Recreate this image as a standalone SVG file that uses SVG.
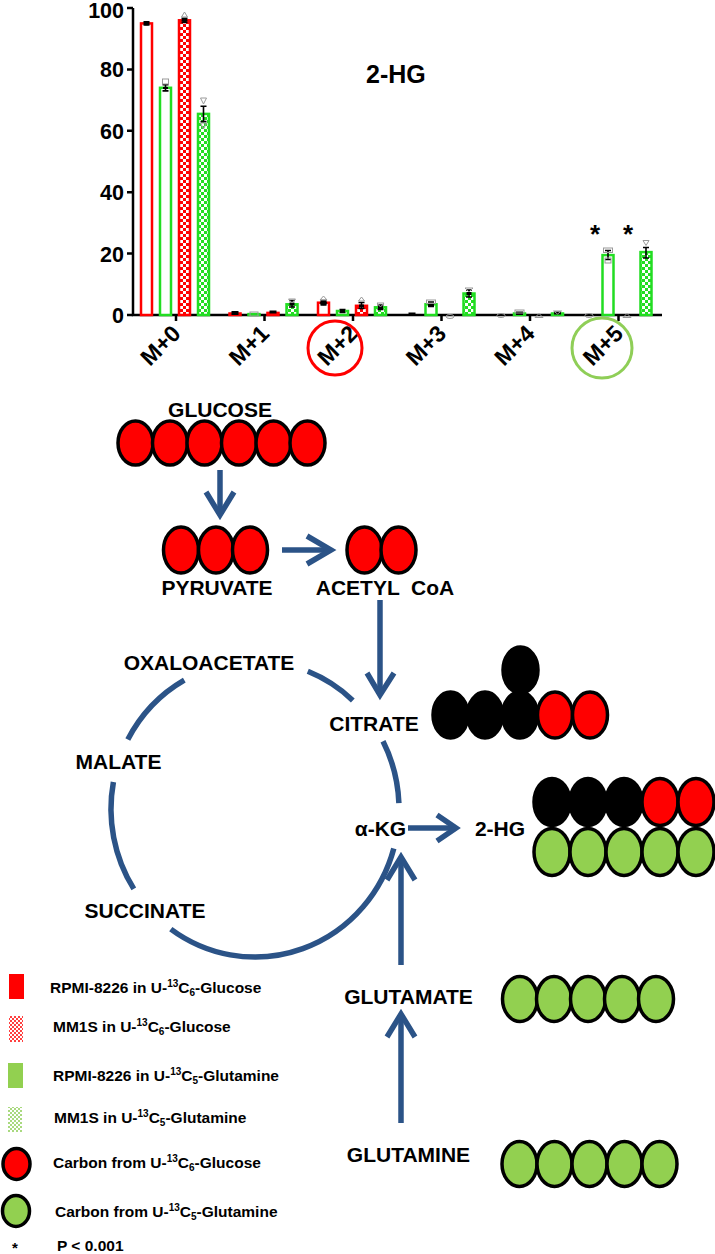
<svg xmlns="http://www.w3.org/2000/svg" width="715" height="1254" viewBox="0 0 715 1254">
<defs>
<pattern id="chkR" width="6" height="6" patternUnits="userSpaceOnUse"><rect width="6" height="6" fill="#ff0000"/><rect width="3" height="3" fill="#fff"/><rect x="3" y="3" width="3" height="3" fill="#fff"/></pattern>
<pattern id="chkG" width="6" height="6" patternUnits="userSpaceOnUse"><rect width="6" height="6" fill="#22dd22"/><rect width="3" height="3" fill="#fff"/><rect x="3" y="3" width="3" height="3" fill="#fff"/></pattern>
<pattern id="chkRL" width="4" height="4" patternUnits="userSpaceOnUse"><rect width="4" height="4" fill="#ff4040"/><rect width="2" height="2" fill="#fff"/><rect x="2" y="2" width="2" height="2" fill="#fff"/></pattern>
<pattern id="chkGL" width="4" height="4" patternUnits="userSpaceOnUse"><rect width="4" height="4" fill="#a9d97f"/><rect width="2" height="2" fill="#fff"/><rect x="2" y="2" width="2" height="2" fill="#fff"/></pattern>
</defs>
<style>
.t{font-family:'Liberation Sans',Arial,sans-serif;font-weight:bold;fill:#000}
.ax{stroke:#000;stroke-width:2.5;fill:none}
.ro{fill:#fff;stroke:#ff0000;stroke-width:2.5}
.go{fill:#fff;stroke:#22dd22;stroke-width:2.5}
.rc{fill:url(#chkR);stroke:#ff0000;stroke-width:2.5}
.gc{fill:url(#chkG);stroke:#22dd22;stroke-width:2.5}
.eb{stroke:#000;stroke-width:1.6;fill:none}
.mk{fill:#000}
.zm{fill:none;stroke:#999;stroke-width:1}
.pw{stroke:#2b5387;stroke-width:5.5;fill:none}
.ov{stroke:#000;stroke-width:3.5}
.r{fill:#ff0000}.k{fill:#000}.g{fill:#92d050}
.pl{font-size:21px}
.lg{font-size:15.5px}
.sm{font-size:10px}
</style>
<rect width="715" height="1254" fill="#fff"/>

<g id="chart">
<g id="axes">
<path class="ax" d="M133 8 V315 H662"/>
<path class="ax" d="M127 8H133M127 69.4H133M127 130.8H133M127 192.2H133M127 253.6H133M127 315H133"/>
<path class="ax" d="M176 315V321M264.5 315V321M353 315V321M441.5 315V321M530 315V321M618.5 315V321"/>
<g class="t" font-size="21.5" text-anchor="end">
<text x="124" y="17.5">100</text><text x="124" y="77.4">80</text><text x="124" y="138.8">60</text><text x="124" y="200.2">40</text><text x="124" y="261.6">20</text><text x="124" y="323">0</text>
</g>
<g class="t" font-size="23" text-anchor="end">
<text transform="translate(182 335) rotate(-45)">M+0</text>
<text transform="translate(270.5 335) rotate(-45)">M+1</text>
<text transform="translate(359 335) rotate(-45)">M+2</text>
<text transform="translate(447.5 335) rotate(-45)">M+3</text>
<text transform="translate(536 335) rotate(-45)">M+4</text>
<text transform="translate(624.5 335) rotate(-45)">M+5</text>
</g>
<text class="t" x="366" y="83" font-size="25">2-HG</text>
<text class="t" x="595" y="243" font-size="26" text-anchor="middle">*</text>
<text class="t" x="628" y="243" font-size="26" text-anchor="middle">*</text>
<circle cx="335" cy="348" r="27" fill="none" stroke="#ff0000" stroke-width="3"/>
<circle cx="602" cy="348" r="30" fill="none" stroke="#8fce57" stroke-width="3"/>
</g>
<g id="bars">
<rect class="ro" x="141" y="23.4" width="11" height="291.6"/>
<rect class="go" x="160" y="87.8" width="11" height="227.2"/>
<rect class="rc" x="179" y="20.3" width="11" height="294.7"/>
<rect class="gc" x="198" y="113.9" width="11" height="201.1"/>
<rect class="ro" x="229.5" y="313.5" width="11" height="1.5"/>
<rect class="go" x="248.5" y="314.1" width="11" height="0.9"/>
<rect class="rc" x="267.5" y="312.9" width="11" height="2.1"/>
<rect class="gc" x="286.5" y="304.3" width="11" height="10.7"/>
<rect class="ro" x="318" y="302.7" width="11" height="12.3"/>
<rect class="go" x="337" y="311" width="11" height="4"/>
<rect class="rc" x="356" y="305.8" width="11" height="9.2"/>
<rect class="gc" x="375" y="307.3" width="11" height="7.7"/>
<rect class="go" x="425.5" y="304.3" width="11" height="10.7"/>
<rect class="gc" x="463.5" y="293.5" width="11" height="21.5"/>
<rect class="go" x="514" y="313.5" width="11" height="1.5"/>
<rect class="gc" x="552" y="313.5" width="11" height="1.5"/>
<rect class="go" x="602.5" y="255.1" width="11" height="59.9"/>
<rect class="gc" x="640.5" y="252.1" width="11" height="62.9"/>
</g>
<g id="errors">
<path class="eb" d="M143.5 21.9H149.5M143.5 24.9H149.5M146.5 21.9V24.9"/>
<path class="eb" d="M162.5 84.7H168.5M162.5 90.9H168.5M165.5 84.7V90.9"/>
<path class="eb" d="M181.5 18.2H187.5M181.5 22.4H187.5M184.5 18.2V22.4"/>
<path class="eb" d="M200.5 106.2H206.5M200.5 121.6H206.5M203.5 106.2V121.6"/>
<rect class="zm" x="162.5" y="79" width="6" height="5"/>
<path class="zm" d="M181.5 17L184.5 12L187.5 17Z"/>
<path class="zm" d="M200.5 98L206.5 98L203.5 104Z"/>
<path class="zm" d="M200.5 123L206.5 123L203.5 129Z"/>
<ellipse class="mk" cx="146.5" cy="23.4" rx="3" ry="1.8"/>
<ellipse class="mk" cx="184.5" cy="20.3" rx="3" ry="1.8"/>
<rect class="mk" x="163" y="87" width="5" height="2"/>
<rect class="mk" x="231.5" y="311" width="7" height="4"/>
<rect class="zm" x="250" y="312" width="8" height="4"/>
<rect class="mk" x="269.5" y="310.5" width="7" height="3"/>
<path class="eb" d="M289 300.5H295M289 307H295M292 300.5V307"/>
<rect class="mk" x="289.5" y="302.5" width="5" height="3"/>
<path class="zm" d="M288.5 299H295.5L292 303Z"/>
<path class="eb" d="M320.5 300.5H326.5M320.5 304.9H326.5M323.5 300.5V304.9"/>
<ellipse class="mk" cx="323.5" cy="302.7" rx="3.5" ry="2.5"/>
<path class="zm" d="M320 300L323.5 296L327 300Z"/>
<path class="eb" d="M339.5 309.5H345.5M339.5 312.5H345.5"/>
<rect class="mk" x="340" y="309.5" width="5" height="3"/>
<path class="eb" d="M358.5 302.5H364.5M358.5 308.5H364.5M361.5 302.5V308.5"/>
<rect class="mk" x="359" y="304.5" width="5" height="3"/>
<path class="zm" d="M358.5 301L361.5 297L364.5 301Z"/>
<path class="eb" d="M377.5 305H383.5M377.5 309.5H383.5M380.5 305V309.5"/>
<rect class="mk" x="378" y="306" width="5" height="3"/>
<path class="zm" d="M377 303H384L380.5 307Z"/>
<rect class="mk" x="408.5" y="312.5" width="7" height="3"/>
<path class="eb" d="M428 302H434M428 306.5H434"/>
<rect class="mk" x="428" y="303" width="6" height="3"/>
<rect class="zm" x="426.5" y="300" width="9" height="3.5"/>
<ellipse class="zm" cx="450" cy="316.5" rx="4" ry="2"/>
<path class="eb" d="M466 290H472M466 297H472M469 290V297"/>
<rect class="mk" x="466.5" y="292" width="5" height="3"/>
<path class="zm" d="M465 288H473L469 292Z"/>
<ellipse class="zm" cx="501" cy="315.5" rx="4" ry="2"/>
<rect class="mk" x="516" y="311.5" width="7" height="3.5"/>
<rect class="zm" x="515" y="310" width="9" height="3"/>
<path class="zm" d="M535 317.5L539 313.5L543 317.5Z"/>
<rect class="mk" x="554" y="311.5" width="7" height="3"/>
<path class="zm" d="M553.5 311H561.5L557.5 314Z"/>
<ellipse class="zm" cx="589" cy="315.5" rx="4" ry="2"/>
<path class="eb" d="M605 250.5H611M605 259.5H611M608 250.5V259.5"/>
<rect class="zm" x="603.5" y="248" width="9" height="4.5"/>
<rect class="zm" x="605" y="258" width="6" height="5"/>
<path class="zm" d="M623 317.5L627 313.5L631 317.5Z"/>
<path class="eb" d="M643 247.5H649M643 258H649M646 247.5V258"/>
<path class="zm" d="M643 240.5H649L646 245.5Z"/>
</g>
</g>

<g id="connectors">
<path class="pw" d="M220 470V514"/><path class="pw" d="M206 492L220 515L234 492"/>
<path class="pw" d="M282 550H330"/><path class="pw" d="M307 536L331 550L307 564"/>
<path class="pw" d="M380 600V694"/><path class="pw" d="M367 673L380 695L394 673"/>
<path class="pw" d="M408 828H454"/><path class="pw" d="M437 815L456 828L437 841"/>
<path class="pw" d="M401 965V858"/><path class="pw" d="M387 880L401 857L415 880"/>
<path class="pw" d="M401 1123V1015"/><path class="pw" d="M387 1037L401 1014L415 1037"/>
<path class="pw" d="M127.8 739.5A144 148 0 0 1 184.3 680.1"/>
<path class="pw" d="M307.8 671.3A144 148 0 0 1 352.8 700.4"/>
<path class="pw" d="M383 741.3A144 148 0 0 1 398.9 803.1"/>
<path class="pw" d="M393.8 848.5A144 148 0 0 1 170.8 929.1"/>
<path class="pw" d="M133.8 888.9A144 148 0 0 1 113.4 782"/>
</g>

<g id="glucose">
<text class="t pl" x="220" y="417" text-anchor="middle">GLUCOSE</text>
<ellipse class="ov r" cx="135.5" cy="443" rx="17.5" ry="22"/>
<ellipse class="ov r" cx="170" cy="443" rx="17.5" ry="22"/>
<ellipse class="ov r" cx="204.5" cy="443" rx="17.5" ry="22"/>
<ellipse class="ov r" cx="239" cy="443" rx="17.5" ry="22"/>
<ellipse class="ov r" cx="273.5" cy="443" rx="17.5" ry="22"/>
<ellipse class="ov r" cx="307.5" cy="443" rx="17.5" ry="22"/>
</g>
<g id="pyruvate">
<ellipse class="ov r" cx="181" cy="550" rx="17.5" ry="23"/>
<ellipse class="ov r" cx="216" cy="550" rx="17.5" ry="23"/>
<ellipse class="ov r" cx="250" cy="550" rx="17.5" ry="23"/>
<text class="t pl" x="217" y="595" text-anchor="middle">PYRUVATE</text>
</g>
<g id="acetylcoa">
<ellipse class="ov r" cx="364.5" cy="550" rx="17.5" ry="23"/>
<ellipse class="ov r" cx="398.5" cy="550" rx="17.5" ry="23"/>
<text class="t pl" x="385" y="595" text-anchor="middle" xml:space="preserve">ACETYL  CoA</text>
</g>
<g id="oxaloacetate"><text class="t pl" x="209" y="670" text-anchor="middle">OXALOACETATE</text></g>
<g id="citrate">
<text class="t pl" x="374" y="731" text-anchor="middle">CITRATE</text>
<ellipse class="ov k" cx="520.5" cy="670" rx="17.5" ry="23"/>
<ellipse class="ov k" cx="450.5" cy="715" rx="17.5" ry="23"/>
<ellipse class="ov k" cx="485" cy="715" rx="17.5" ry="23"/>
<ellipse class="ov k" cx="520" cy="715" rx="17.5" ry="23"/>
<ellipse class="ov r" cx="555" cy="715" rx="17.5" ry="23"/>
<ellipse class="ov r" cx="590" cy="715" rx="17.5" ry="23"/>
</g>
<g id="malate"><text class="t pl" x="118.5" y="769" text-anchor="middle">MALATE</text></g>
<g id="akg"><text class="t pl" x="380.5" y="836" text-anchor="middle">α-KG</text></g>
<g id="hg2">
<text class="t pl" x="500" y="836" text-anchor="middle">2-HG</text>
<ellipse class="ov k" cx="552" cy="802" rx="18" ry="23.5"/>
<ellipse class="ov k" cx="588" cy="802" rx="18" ry="23.5"/>
<ellipse class="ov k" cx="624" cy="802" rx="18" ry="23.5"/>
<ellipse class="ov r" cx="660" cy="802" rx="18" ry="23.5"/>
<ellipse class="ov r" cx="696" cy="802" rx="18" ry="23.5"/>
<ellipse class="ov g" cx="552" cy="852" rx="18" ry="23.5"/>
<ellipse class="ov g" cx="588" cy="852" rx="18" ry="23.5"/>
<ellipse class="ov g" cx="624" cy="852" rx="18" ry="23.5"/>
<ellipse class="ov g" cx="660" cy="852" rx="18" ry="23.5"/>
<ellipse class="ov g" cx="696" cy="852" rx="18" ry="23.5"/>
</g>
<g id="succinate"><text class="t pl" x="145" y="918" text-anchor="middle">SUCCINATE</text></g>
<g id="glutamate">
<text class="t pl" x="408.5" y="1004" text-anchor="middle">GLUTAMATE</text>
<ellipse class="ov g" cx="520" cy="999" rx="17.5" ry="22.5"/>
<ellipse class="ov g" cx="554" cy="999" rx="17.5" ry="22.5"/>
<ellipse class="ov g" cx="588" cy="999" rx="17.5" ry="22.5"/>
<ellipse class="ov g" cx="622" cy="999" rx="17.5" ry="22.5"/>
<ellipse class="ov g" cx="656" cy="999" rx="17.5" ry="22.5"/>
</g>
<g id="glutamine">
<text class="t pl" x="408.5" y="1162" text-anchor="middle">GLUTAMINE</text>
<ellipse class="ov g" cx="519.5" cy="1164" rx="17.5" ry="22.5"/>
<ellipse class="ov g" cx="554.5" cy="1164" rx="17.5" ry="22.5"/>
<ellipse class="ov g" cx="589.5" cy="1164" rx="17.5" ry="22.5"/>
<ellipse class="ov g" cx="624.5" cy="1164" rx="17.5" ry="22.5"/>
<ellipse class="ov g" cx="659.5" cy="1164" rx="17.5" ry="22.5"/>
</g>

<g id="legend">
<rect x="9" y="974" width="15" height="25" fill="#ff0000"/>
<text class="t lg" x="50" y="993">RPMI-8226 in U-<tspan class="sm" dy="-6">13</tspan><tspan dy="6">C</tspan><tspan class="sm" dy="3">6</tspan><tspan dy="-3">-Glucose</tspan></text>
<rect x="9" y="1016" width="14" height="26" fill="url(#chkRL)"/>
<text class="t lg" x="53" y="1032">MM1S in U-<tspan class="sm" dy="-6">13</tspan><tspan dy="6">C</tspan><tspan class="sm" dy="3">6</tspan><tspan dy="-3">-Glucose</tspan></text>
<rect x="8" y="1063" width="15" height="25" fill="#92d050"/>
<text class="t lg" x="53" y="1081">RPMI-8226 in U-<tspan class="sm" dy="-6">13</tspan><tspan dy="6">C</tspan><tspan class="sm" dy="3">5</tspan><tspan dy="-3">-Glutamine</tspan></text>
<rect x="8" y="1107" width="14" height="25" fill="url(#chkGL)"/>
<text class="t lg" x="54" y="1123">MM1S in U-<tspan class="sm" dy="-6">13</tspan><tspan dy="6">C</tspan><tspan class="sm" dy="3">5</tspan><tspan dy="-3">-Glutamine</tspan></text>
<ellipse class="ov r" cx="16.5" cy="1164" rx="13.5" ry="15.5"/>
<text class="t lg" x="53" y="1168">Carbon from U-<tspan class="sm" dy="-6">13</tspan><tspan dy="6">C</tspan><tspan class="sm" dy="3">6</tspan><tspan dy="-3">-Glucose</tspan></text>
<ellipse class="ov g" cx="16" cy="1211" rx="13.5" ry="15.5"/>
<text class="t lg" x="55" y="1217">Carbon from U-<tspan class="sm" dy="-6">13</tspan><tspan dy="6">C</tspan><tspan class="sm" dy="3">5</tspan><tspan dy="-3">-Glutamine</tspan></text>
<text class="t" x="15" y="1253" font-size="15" text-anchor="middle">*</text>
<text class="t lg" x="57" y="1251">P &lt; 0.001</text>
</g>
</svg>
